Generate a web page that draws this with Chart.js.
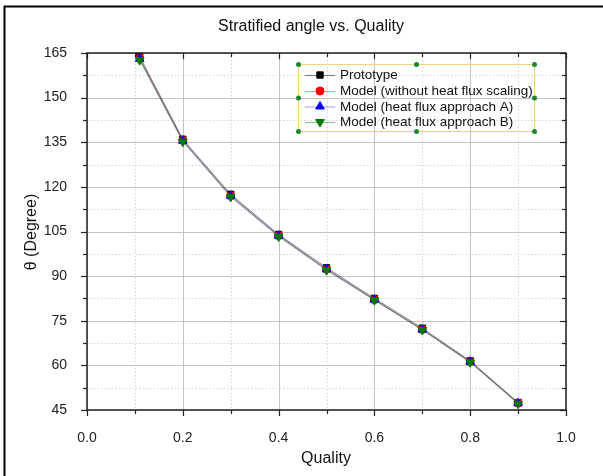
<!DOCTYPE html>
<html><head><meta charset="utf-8">
<script src="https://cdn.jsdelivr.net/npm/chart.js@4/dist/chart.umd.min.js"></script>
<style>html,body{margin:0;padding:0;background:#fff;}#wrap{width:603px;height:476px;position:relative;}</style>
</head><body><div id="wrap"><canvas id="c" width="603" height="476"></canvas></div>
<script>
const quality = [0.11, 0.2, 0.3, 0.4, 0.5, 0.6, 0.7, 0.8, 0.9];
const prototype = [163.8, 136.0, 117.5, 104.0, 92.8, 82.5, 72.5, 61.5, 47.5];
const modelNoScaling = [163.2, 135.6, 117.0, 103.6, 92.3, 82.1, 72.1, 61.2, 47.3];
const modelA = [163.0, 135.5, 117.0, 103.6, 92.3, 82.1, 72.0, 61.2, 47.3];
const modelB = [162.6, 135.2, 116.6, 103.3, 92.0, 81.9, 71.9, 61.0, 47.1];
const seriesNames = ["Prototype", "Model (without heat flux scaling)", "Model (heat flux approach A)", "Model (heat flux approach B)"];
const xTicks = [0, 0.2, 0.4, 0.6, 0.8, 1.0];
const yTicks = [45, 60, 75, 90, 105, 120, 135, 150, 165];

const FONT = "'Liberation Sans', Arial, sans-serif";
const pts = arr => arr.map((v, i) => ({x: quality[i], y: v}));

const styles = [
  {line: 'rgba(0,0,0,0.5)', pt: '#000000', shape: 'rect', r: 4.5},
  {line: 'rgba(255,0,0,0.4)', pt: '#ff0000', shape: 'circle', r: 4},
  {line: 'rgba(0,0,255,0.4)', pt: '#0000ff', shape: 'triangle', r: 5},
  {line: 'rgba(0,128,0,0.5)', pt: '#007a00', shape: 'triangle', r: 5, rot: 180}
];
const dataArr = [prototype, modelNoScaling, modelA, modelB];

const datasets = dataArr.map((d, i) => ({
  label: seriesNames[i],
  data: pts(d),
  showLine: true,
  order: 3 - i,
  borderColor: styles[i].line,
  borderWidth: 1,
  pointStyle: styles[i].shape,
  pointRotation: styles[i].rot || 0,
  pointRadius: styles[i].r,
  pointBackgroundColor: styles[i].pt,
  pointBorderColor: styles[i].pt,
  pointBorderWidth: 1,
  clip: false
}));

const frame = {
  id: 'frame',
  beforeDatasetsDraw(chart) {
    const {ctx, chartArea: a, scales: {x, y}} = chart;
    ctx.save();
    ctx.strokeStyle = '#d6d6d6'; ctx.lineWidth = 1; ctx.setLineDash([1.5, 2]);
    for (let k = 1; k < 10; k += 2) {
      const px = Math.round(x.getPixelForValue(k / 10)) + 0.5;
      ctx.beginPath(); ctx.moveTo(px, a.top); ctx.lineTo(px, a.bottom); ctx.stroke();
    }
    for (let v = 52.5; v < 165; v += 15) {
      const py = Math.round(y.getPixelForValue(v)) + 0.5;
      ctx.beginPath(); ctx.moveTo(a.left, py); ctx.lineTo(a.right, py); ctx.stroke();
    }
    ctx.setLineDash([]); ctx.strokeStyle = '#c4c4c4';
    xTicks.forEach(v => { const px = Math.round(x.getPixelForValue(v)) + 0.5;
      ctx.beginPath(); ctx.moveTo(px, a.top); ctx.lineTo(px, a.bottom); ctx.stroke(); });
    yTicks.forEach(v => { const py = Math.round(y.getPixelForValue(v)) + 0.5;
      ctx.beginPath(); ctx.moveTo(a.left, py); ctx.lineTo(a.right, py); ctx.stroke(); });
    ctx.restore();
  },
  afterDatasetsDraw(chart) {
    const {ctx, chartArea: a, scales: {x, y}} = chart;
    ctx.save();
    ctx.strokeStyle = '#222'; ctx.lineWidth = 1.5;
    ctx.strokeRect(a.left, a.top, a.right - a.left, a.bottom - a.top);
    ctx.lineWidth = 1.2;
    for (let k = 0; k <= 10; k++) {
      const px = Math.round(x.getPixelForValue(k / 10)) + 0.5;
      const L = k % 2 === 0 ? 6 : 4;
      ctx.beginPath(); ctx.moveTo(px, a.bottom); ctx.lineTo(px, a.bottom + L); ctx.stroke();
      ctx.beginPath(); ctx.moveTo(px, a.top); ctx.lineTo(px, a.top + L); ctx.stroke();
    }
    for (let k = 0; k <= 16; k++) {
      const v = 45 + k * 7.5;
      const py = Math.round(y.getPixelForValue(v)) + 0.5;
      const L = k % 2 === 0 ? 6 : 4;
      ctx.beginPath(); ctx.moveTo(a.left, py); ctx.lineTo(a.left - L, py); ctx.stroke();
      ctx.beginPath(); ctx.moveTo(a.right, py); ctx.lineTo(a.right - L, py); ctx.stroke();
    }
    ctx.strokeStyle = '#000'; ctx.lineWidth = 2;
    ctx.beginPath(); ctx.moveTo(4.5, 476); ctx.lineTo(4.5, 6.5); ctx.lineTo(603, 6.5); ctx.stroke();
    ctx.fillStyle = '#111';
    ctx.font = '16px ' + FONT; ctx.textAlign = 'center'; ctx.textBaseline = 'middle';
    ctx.fillText('Stratified angle vs. Quality', 311, 27);
    ctx.fillText('Quality', 326, 459);
    ctx.save(); ctx.translate(32, 232); ctx.rotate(-Math.PI / 2);
    ctx.fillText('θ (Degree)', 0, 0); ctx.restore();
    const L = {l: 298.5, t: 64.5, r: 534.5, b: 131.5};
    ctx.strokeStyle = '#f3d27c'; ctx.lineWidth = 1;
    ctx.strokeRect(L.l, L.t, L.r - L.l, L.b - L.t);
    ctx.font = '13.5px ' + FONT; ctx.textAlign = 'left';
    const rows = [75, 91, 106.5, 122];
    datasets.forEach((ds, i) => {
      const yy = rows[i];
      ctx.strokeStyle = ds.borderColor; ctx.lineWidth = 1;
      ctx.beginPath(); ctx.moveTo(305, yy + 0.5); ctx.lineTo(335, yy + 0.5); ctx.stroke();
      ctx.fillStyle = ds.pointBackgroundColor; ctx.strokeStyle = ds.pointBorderColor;
      Chart.helpers.drawPoint(ctx, {pointStyle: ds.pointStyle, rotation: ds.pointRotation, radius: ds.pointRadius, borderWidth: 1}, 320, yy);
      ctx.fillStyle = '#111';
      ctx.fillText(ds.label, 340, yy + 0.5);
    });
    ctx.fillStyle = '#1b8a2a';
    const mx = (L.l + L.r) / 2, my = (L.t + L.b) / 2;
    [[L.l, L.t], [mx, L.t], [L.r, L.t], [L.l, my], [L.r, my], [L.l, L.b], [mx, L.b], [L.r, L.b]].forEach(([px, py]) => {
      ctx.beginPath(); ctx.arc(px, py, 2.5, 0, Math.PI * 2); ctx.fill();
    });
    ctx.restore();
  }
};

new Chart(document.getElementById('c'), {
  type: 'scatter',
  data: {datasets},
  options: {
    responsive: false, animation: false, devicePixelRatio: 1,
    layout: {padding: {top: 53, right: 37, left: 0, bottom: 0}},
    plugins: {legend: {display: false}, title: {display: false}, tooltip: {enabled: false}},
    scales: {
      x: {
        type: 'linear', min: 0, max: 1,
        afterFit: s => { s.height = 66; },
        afterBuildTicks: s => { s.ticks = xTicks.map(v => ({value: v})); },
        grid: {display: false}, border: {display: false},
        ticks: {padding: 12, color: '#222', font: {family: FONT, size: 14}, callback: v => v.toFixed(1)}
      },
      y: {
        type: 'linear', min: 45, max: 165,
        afterFit: s => { s.width = 87; },
        afterBuildTicks: s => { s.ticks = yTicks.map(v => ({value: v})); },
        grid: {display: false}, border: {display: false},
        ticks: {padding: 12, color: '#222', font: {family: FONT, size: 14}}
      }
    }
  },
  plugins: [frame]
});
</script></body></html>
